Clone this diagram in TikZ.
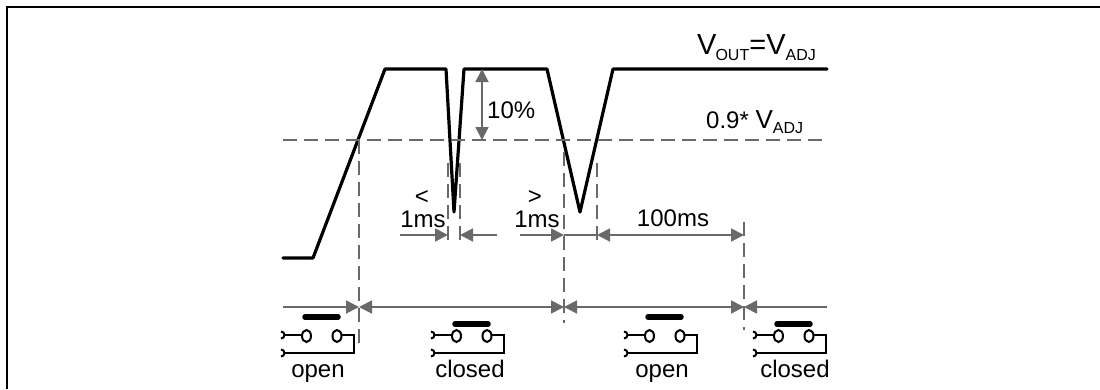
\documentclass[tikz,border=0pt]{standalone}
\usepackage{fontspec}
\setmainfont{Liberation Sans}
\usetikzlibrary{arrows.meta}
\definecolor{gr}{RGB}{105,105,105}
\begin{document}
\begin{tikzpicture}[x=1pt,y=-1pt,
  wave/.style={line width=3.2pt,line join=round,line cap=round},
  dsh/.style={draw=gr,line width=1.8pt,dash pattern=on 14pt off 7pt},
  garr/.style={draw=gr,line width=1.8pt,-{Triangle[length=13pt,width=13pt]}},
  gdarr/.style={draw=gr,line width=1.8pt,{Triangle[length=13pt,width=13pt]}-{Triangle[length=13pt,width=13pt]}},
  gln/.style={draw=gr,line width=1.8pt},
  lbl/.style={inner sep=0pt,anchor=base,font=\fontsize{24}{26}\selectfont},
  swl/.style={line width=2pt},
  pics/sw/.style={code={
    \draw[swl] (-2,-3.5) arc (-90:90:3.5);
    \draw[swl] (-2,14.5) arc (-90:90:3.5);
    \draw[swl] (1.5,0) -- (19,0);
    \draw[swl] (23.5,1) ellipse [x radius=4.5,y radius=6];
    \draw[swl] (54,1) ellipse [x radius=4.5,y radius=6];
    \draw[swl] (58.5,0) -- (71,0) -- (71,18) -- (1.5,18);
    \draw[line width=5.5pt,line cap=round] (22,#1) -- (55,#1);
  }}
]
\useasboundingbox (0,0) rectangle (1100,389);
% frame
\draw[line width=2pt] (7,389) -- (7,7) -- (1100,7);

% waveform
\coordinate (w0) at (283,258);
\coordinate (w1) at (313,258);
\coordinate (w2) at (385,69);
\coordinate (w3) at (446,69);
\coordinate (w4) at (454,212);
\coordinate (w5) at (464,69);
\coordinate (w6) at (547,69);
\coordinate (w7) at (580,212);
\coordinate (w8) at (613,69);
\coordinate (w9) at (827,69);
\draw[wave] (w0) -- (w1) -- (w2) -- (w3) -- (w4) -- (w5) -- (w6) -- (w7) -- (w8) -- (w9);

% threshold and guide lines
\coordinate (h0) at (283,140);
\coordinate (h1) at (827,140);
\draw[dsh] (h0) -- (h1);
\coordinate (v1a) at (359,140); \coordinate (v1b) at (359,350);
\coordinate (v2a) at (448,163); \coordinate (v2b) at (448,247);
\coordinate (v3a) at (460,163); \coordinate (v3b) at (460,247);
\coordinate (v4a) at (564,152); \coordinate (v4b) at (564,323);
\coordinate (v5a) at (597,163); \coordinate (v5b) at (597,245);
\coordinate (v6a) at (744,222); \coordinate (v6b) at (744,330);
\foreach \n in {1,...,6} {\draw[dsh] (v\n a) -- (v\n b);}

% 10% arrow
\coordinate (t0) at (482,69);
\coordinate (t1) at (482,140);
\draw[gdarr] (t0) -- (t1);
\node[lbl,anchor=base west] (ten) at (487,118) {10\%};

% middle timing arrows
\coordinate (m0) at (400,235);
\coordinate (m1) at (448,235);
\coordinate (m2) at (460,235);
\coordinate (m3) at (497,235);
\coordinate (m4) at (520,235);
\coordinate (m5) at (564,235);
\coordinate (m6) at (597,235);
\coordinate (m7) at (744,235);
\draw[garr] (m0) -- (m1);
\draw[garr] (m3) -- (m2);
\draw[garr] (m4) -- (m5);
\draw[gln] (m5) -- (m6);
\draw[gdarr] (m6) -- (m7);

\node[lbl] (lt) at (422,204) {<};
\node[lbl] (lt1) at (423,227) {1ms};
\node[lbl] (gt) at (535,204) {>};
\node[lbl] (gt1) at (537,227) {1ms};
\node[lbl] (hund) at (673,226) {100ms};

% bottom state arrows
\coordinate (b0) at (283,307);
\coordinate (b1) at (359,307);
\coordinate (b2) at (564,307);
\coordinate (b3) at (744,307);
\coordinate (b4) at (827,307);
\draw[garr] (b0) -- (b1);
\draw[gdarr] (b1) -- (b2);
\draw[gdarr] (b2) -- (b3);
\draw[garr] (b4) -- (b3);

% switches
\pic (s1) at (283,335) {sw={-18}};
\pic (s2) at (433,335) {sw={-11}};
\pic (s3) at (626,335) {sw={-18}};
\pic (s4) at (755,335) {sw={-11}};
\node[lbl] (o1) at (318,377) {open};
\node[lbl] (c1) at (470,377) {closed};
\node[lbl] (o2) at (662,377) {open};
\node[lbl] (c2) at (795,377) {closed};

% labels
\node[inner sep=0pt,anchor=base west] (vout) at (697,54)
  {\fontsize{29}{30}\selectfont V\kern-1pt\raisebox{-6pt}{\fontsize{16}{16}\selectfont OUT}=V\raisebox{-6pt}{\fontsize{16}{16}\selectfont ADJ}};
\node[inner sep=0pt,anchor=base west] (v09) at (706,128)
  {\fontsize{24}{26}\selectfont 0.9* \fontsize{26}{27}\selectfont V\raisebox{-5pt}{\fontsize{16}{16}\selectfont ADJ}};
\end{tikzpicture}
\end{document}
